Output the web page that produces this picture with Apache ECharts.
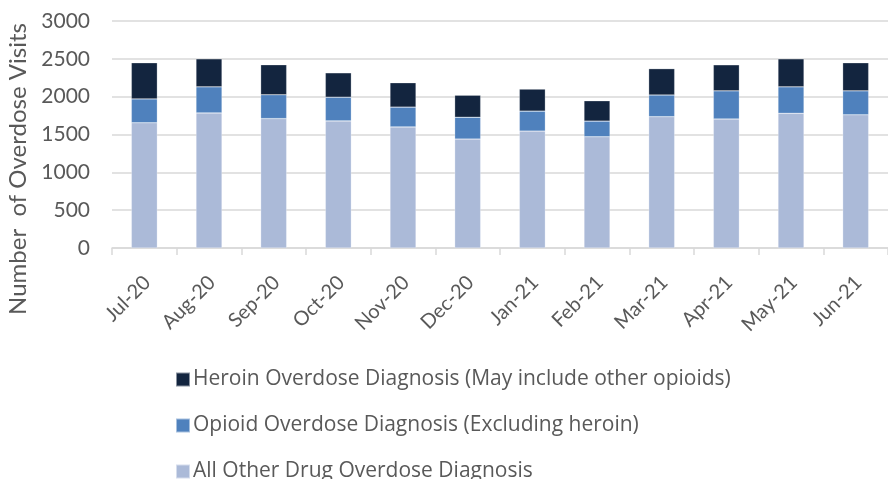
<!DOCTYPE html>
<html><head><meta charset="utf-8">
<script src="https://cdn.jsdelivr.net/npm/echarts@6/dist/echarts.min.js"></script>
<style>html,body{margin:0;padding:0;background:#fff}#c{width:888px;height:479px}</style>
</head><body><div id="c"></div>
<script>
const categories = ['Jul-20','Aug-20','Sep-20','Oct-20','Nov-20','Dec-20','Jan-21','Feb-21','Mar-21','Apr-21','May-21','Jun-21'];
const otherDrug = [1655,1785,1710,1680,1600,1440,1545,1470,1735,1705,1780,1760];
const opioidExHeroin = [315,345,315,313,262,288,264,207,287,372,350,317];
const heroin = [478,370,397,322,322,291,291,269,348,344,370,371];
const yTicks = [0,500,1000,1500,2000,2500,3000];
const seriesNames = ['All Other Drug Overdose Diagnosis','Opioid Overdose Diagnosis (Excluding heroin)','Heroin Overdose Diagnosis (May include other opioids)'];
const yAxisTitle = 'Number  of Overdose Visits';

const font = 'Lato, "Open Sans", sans-serif';
const chart = echarts.init(document.getElementById('c'), null, {renderer:'canvas'});
const barStyle = (c) => ({color:c, borderColor:'rgba(255,255,255,0.5)', borderWidth:0.5});
chart.setOption({
  animation:false,
  grid:{left:112, top:21, width:784, height:227, containLabel:false},
  legend:{
    orient:'vertical', left:170, top:364, height:125, itemGap:25, itemWidth:14, itemHeight:14,
    icon:'rect',
    data:[seriesNames[2], seriesNames[1], seriesNames[0]],
    textStyle:{fontFamily:'"Open Sans", sans-serif', fontSize:21, color:'#595959', padding:[0,0,0,-2]}
  },
  xAxis:{
    type:'category', data:categories,
    axisLine:{lineStyle:{color:'#d9d9d9', width:1.5}},
    axisTick:{show:true, length:7, lineStyle:{color:'#d9d9d9', width:1.5}},
    axisLabel:{rotate:45, fontFamily:font, fontSize:20, color:'#595959', margin:20, interval:0, verticalAlign:'top', padding:[0,6,0,0]}
  },
  yAxis:{
    type:'value', min:0, max:3000, interval:500,
    axisLine:{show:false}, axisTick:{show:false},
    splitLine:{lineStyle:{color:'#d9d9d9', width:1.5}},
    axisLabel:{fontFamily:font, fontSize:21, color:'#595959', margin:22,
      formatter:(v)=> yTicks.includes(v) ? String(v) : ''}
  },
  graphic:[{
    type:'text', x:18, y:169, rotation:Math.PI/2,
    style:{text:yAxisTitle, font:'24px '+font, fill:'#595959', align:'center', verticalAlign:'middle'}
  }],
  series:[
    {name:seriesNames[0], type:'bar', stack:'t', data:otherDrug, barWidth:26, itemStyle:barStyle('#abbad8')},
    {name:seriesNames[1], type:'bar', stack:'t', data:opioidExHeroin, barWidth:26, itemStyle:barStyle('#4f81bd')},
    {name:seriesNames[2], type:'bar', stack:'t', data:heroin, barWidth:26, itemStyle:barStyle('#13253f')}
  ]
});
</script></body></html>
